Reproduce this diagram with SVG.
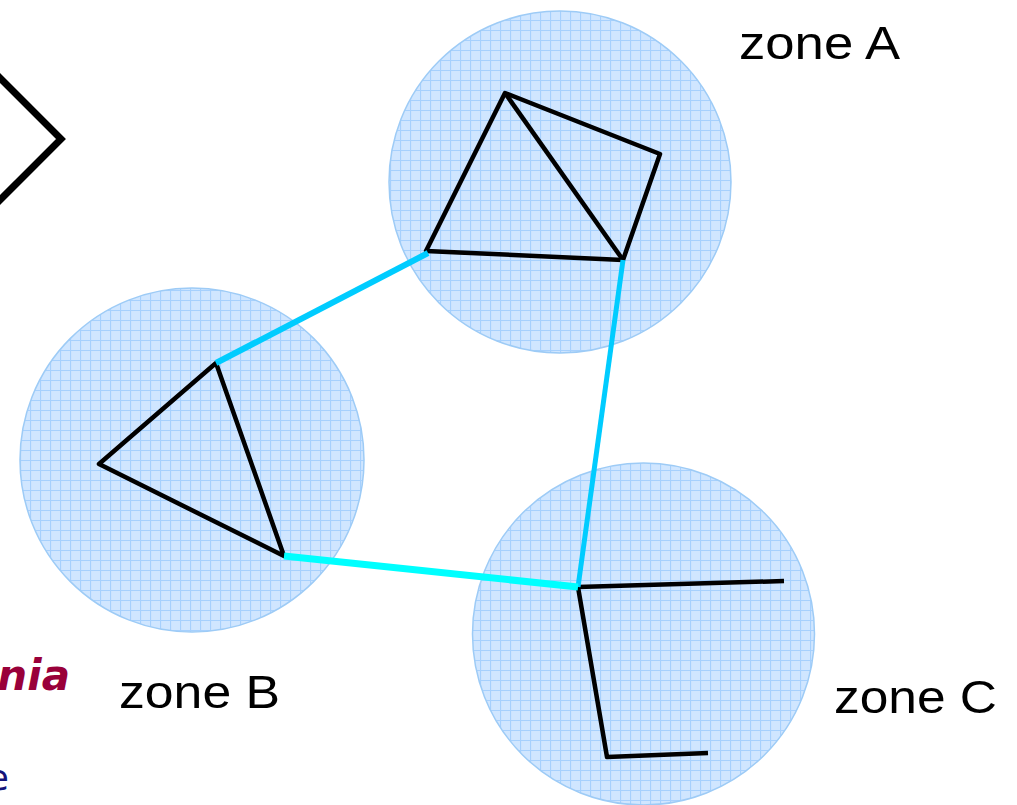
<svg xmlns="http://www.w3.org/2000/svg" width="1017" height="805" viewBox="0 0 1017 805">
<defs>
<pattern id="grid" width="10" height="10" patternUnits="userSpaceOnUse">
<rect width="10" height="10" fill="#d0e6ff"/>
<path d="M0 0.5H10M0.5 0V10" stroke="#a6d0fd" stroke-width="1.2" fill="none"/>
</pattern>
<style>
.zone{fill:url(#grid);stroke:#9dcbf6;stroke-width:1.5}
.blk{fill:none;stroke:#000;stroke-width:4.5;stroke-linejoin:round;stroke-linecap:butt}
.lbl{font-family:"Liberation Sans",Arial,sans-serif;font-size:47px;fill:#000}
.link{fill:none;stroke:#00ccff;stroke-width:6}
.link.thin{stroke-width:5}
.link.bright{stroke:#00ffff;stroke-width:7}
</style>
</defs>
<rect width="1017" height="805" fill="#fff"/>
<polyline points="-20,58 61,139 -20,220" fill="none" stroke="#000" stroke-width="7"/>
<text x="70" y="690" text-anchor="end" font-family="'DejaVu Sans',Verdana,sans-serif" font-size="42" font-weight="bold" font-style="italic" fill="#99003a">nia</text>
<text x="9" y="790" text-anchor="end" font-family="'DejaVu Sans',Verdana,sans-serif" font-size="36" fill="#14147a">e</text>
<g id="zoneA">
<circle class="zone" cx="560" cy="182" r="171"/>
<polygon class="blk" points="505,93 660,154 623,260 426,251"/>
<line class="blk" x1="505" y1="93" x2="623" y2="260"/>
<text class="lbl" x="739" y="59" textLength="161" lengthAdjust="spacingAndGlyphs">zone A</text>
</g>
<g id="zoneB">
<circle class="zone" cx="192" cy="460" r="172"/>
<polygon class="blk" points="216,363 99,464 284,556"/>
<text class="lbl" x="119" y="708" textLength="161" lengthAdjust="spacingAndGlyphs">zone B</text>
</g>
<g id="zoneC">
<circle class="zone" cx="643.5" cy="634" r="171"/>
<polyline class="blk" points="784,581 578,587 607,757 708,753"/>
<text class="lbl" x="834" y="713" textLength="163" lengthAdjust="spacingAndGlyphs">zone C</text>
</g>
<g id="connectors">
<line class="link" x1="428" y1="253" x2="216" y2="363"/>
<line class="link thin" x1="623" y1="260" x2="578" y2="587"/>
<line class="link bright" x1="284" y1="556" x2="578" y2="587"/>
</g>
</svg>
